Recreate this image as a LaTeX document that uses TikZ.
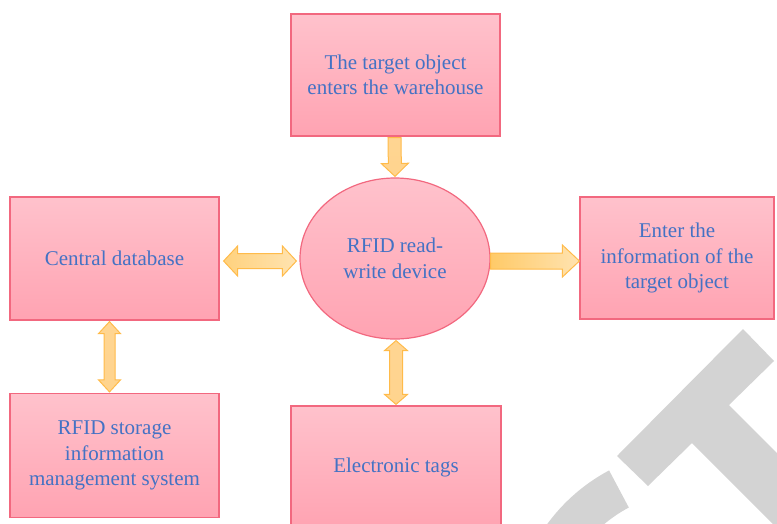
\documentclass[tikz,border=0pt]{standalone}
\usepackage{fontspec}
\setmainfont{Liberation Serif}
\usetikzlibrary{calc,shapes.geometric}
\definecolor{boxtop}{HTML}{FFC2CC}
\definecolor{boxbot}{HTML}{FFA3B2}
\definecolor{boxline}{HTML}{F2687F}
\definecolor{txt}{HTML}{4472C4}
\definecolor{arrline}{HTML}{FFBB4A}
\definecolor{arrdark}{HTML}{FFCA68}
\definecolor{arrlight}{HTML}{FFE3B0}
\definecolor{arrmid}{HTML}{FFD592}
\definecolor{wm}{HTML}{D3D3D3}
\newcommand\onearrow[6]{%
  \coordinate (aa) at (#1); \coordinate (bb) at (#2);
  \coordinate (hb) at ($(bb)!#5!(aa)$);
  \shadedraw[#6] ($(aa)!#3!90:(bb)$) -- ($(hb)!#3!-90:(aa)$) -- ($(hb)!#4!-90:(aa)$) -- (bb)
     -- ($(hb)!#4!90:(aa)$) -- ($(hb)!#3!90:(aa)$) -- ($(aa)!#3!-90:(bb)$) -- cycle;}
\newcommand\twoarrow[6]{%
  \coordinate (aa) at (#1); \coordinate (bb) at (#2);
  \coordinate (hb) at ($(bb)!#5!(aa)$); \coordinate (ha) at ($(aa)!#5!(bb)$);
  \shadedraw[#6] (aa) -- ($(ha)!#4!90:(bb)$) -- ($(ha)!#3!90:(bb)$) -- ($(hb)!#3!-90:(aa)$)
     -- ($(hb)!#4!-90:(aa)$) -- (bb) -- ($(hb)!#4!90:(aa)$) -- ($(hb)!#3!90:(aa)$)
     -- ($(ha)!#3!-90:(bb)$) -- ($(ha)!#4!-90:(bb)$) -- cycle;}
\tikzset{
  pinkbox/.style={draw=boxline, line width=1.2pt, top color=boxtop, bottom color=boxbot,
    rectangle, inner sep=0pt, align=center, text=txt,
    font=\fontsize{21}{25.5}\selectfont},
  pinkell/.style={pinkbox, ellipse},
  harrow/.style={draw=arrline, line width=1pt, left color=arrdark, right color=arrlight, line join=miter},
  harrowb/.style={draw=arrline, line width=1pt, left color=arrdark!70!arrlight, right color=arrlight, line join=miter},
  varrow/.style={draw=arrline, line width=1pt, top color=arrmid, bottom color=arrmid!90!arrdark, line join=miter},
}
\begin{document}
\begin{tikzpicture}[x=1pt,y=-1pt]
\useasboundingbox (0,0) rectangle (777,523);
\clip (0,0) rectangle (777,523);
% watermark
\fill[wm] (743,329) -- (774,361) -- (729,405) -- (829,505) -- (792,543) -- (692,443)
  -- (648,486) -- (617,456) -- cycle;
\fill[wm] (695,632) ++(242:183) arc[start angle=242, end angle=185, radius=183]
  -- ($(695,632)+(185:141)$) arc[start angle=185, end angle=242, radius=141] -- cycle;
% nodes
\node[pinkbox, minimum width=209pt, minimum height=122pt] (top) at (395.5,75) {The target object\\enters the warehouse};
\node[pinkbox, minimum width=209pt, minimum height=123pt] (cdb) at (114.5,258.5) {Central database};
\node[pinkell, minimum width=190pt, minimum height=161pt] (dev) at (395,258.5) {RFID read-\\write device};
\node[pinkbox, minimum width=194pt, minimum height=122pt] (info) at (677,258) {Enter the\\information of the\\target object};
\node[pinkbox, minimum width=209pt, minimum height=124pt] (rsys) at (114.5,455.5) {RFID storage\\information\\management system};
\node[pinkbox, minimum width=210pt, minimum height=122pt] (tags) at (396,467) {Electronic tags};
% connectors
\onearrow{$(top.south)+(-1,1)$}{$(dev.north)+(0,-1)$}{6.5pt}{13.5pt}{13pt}{varrow}
\twoarrow{$(cdb.east)+(4,2.5)$}{$(dev.west)+(-3,2.5)$}{7.5pt}{15pt}{14pt}{harrowb}
\onearrow{$(dev.east)+(0,2.5)$}{$(info.west)+(0,3)$}{8pt}{16pt}{17pt}{harrow}
\twoarrow{$(cdb.south)+(-5,1)$}{$(rsys.north)+(-5,-1)$}{5.5pt}{11pt}{12pt}{varrow}
\twoarrow{$(dev.south)+(1,1)$}{$(tags.north)+(0,-1)$}{6.5pt}{11.5pt}{10pt}{varrow}
\end{tikzpicture}
\end{document}
